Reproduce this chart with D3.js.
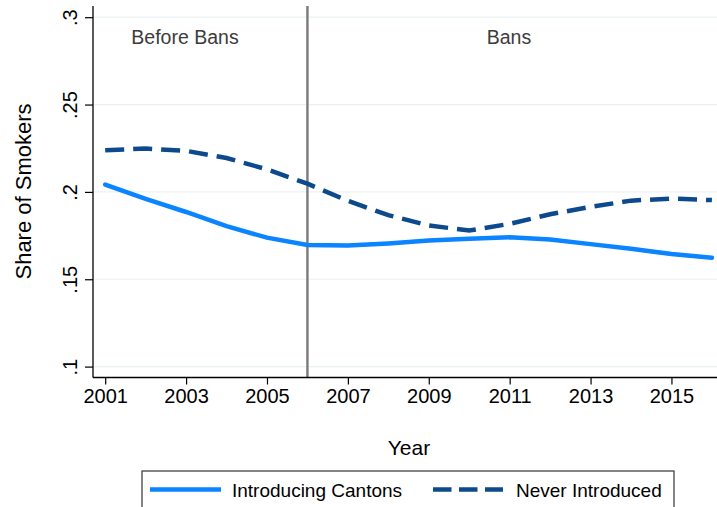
<!DOCTYPE html>
<html>
<head>
<meta charset="utf-8">
<script src="https://cdn.jsdelivr.net/npm/d3@7"></script>
<style>
  html, body { margin: 0; padding: 0; background: #fff; }
  svg { display: block; font-family: "Liberation Sans", Arial, sans-serif; }
</style>
</head>
<body>
<svg id="chart" width="717" height="507"></svg>
<script>
const years = [2001,2002,2003,2004,2005,2006,2007,2008,2009,2010,2011,2012,2013,2014,2015,2016];
const introducingCantons = [0.2042,0.1960,0.1885,0.1804,0.1738,0.1696,0.1693,0.1705,0.1722,0.1732,0.1740,0.1728,0.1701,0.1674,0.1644,0.1623];
const neverIntroduced = [0.2238,0.2248,0.2235,0.2194,0.2129,0.2047,0.1949,0.1867,0.1808,0.1779,0.1817,0.1872,0.1914,0.1950,0.1962,0.1953];
const xTickValues = [2001,2003,2005,2007,2009,2011,2013,2015];
const yTickValues = [0.1,0.15,0.2,0.25,0.3];
const yTickLabels = [".1",".15",".2",".25",".3"];
const banYear = 2006;
const seriesNames = ["Introducing Cantons","Never Introduced"];
const periodLabels = ["Before Bans","Bans"];

const svg = d3.select("#chart");
const W = 717, H = 507;
const axisLeft = 93, axisBottom = 377.5, plotTop = 6, plotRight = 717;

const x = d3.scaleLinear().domain([2001, 2016]).range([105.2, 711.9]);
const y = d3.scaleLinear().domain([0.1, 0.3]).range([366.6, 17.2]);

const solidColor = "#0a84ff";
const navyColor = "#0c4a8d";

// grid lines
svg.append("g").selectAll("line").data(yTickValues).join("line")
  .attr("x1", axisLeft).attr("x2", plotRight)
  .attr("y1", d => y(d)).attr("y2", d => y(d))
  .attr("stroke", "#e9f1f4").attr("stroke-width", 1.2);

// vertical ban line
svg.append("line")
  .attr("x1", x(banYear)).attr("x2", x(banYear))
  .attr("y1", plotTop).attr("y2", axisBottom)
  .attr("stroke", "#7a7a7a").attr("stroke-width", 2.4);

// period labels
svg.append("text").attr("x", 185).attr("y", 44)
  .attr("text-anchor", "middle").attr("font-size", 19.5).attr("fill", "#3c3c3c")
  .text(periodLabels[0]);
svg.append("text").attr("x", 509).attr("y", 44)
  .attr("text-anchor", "middle").attr("font-size", 19.5).attr("fill", "#3c3c3c")
  .text(periodLabels[1]);

// lines
const line = d3.line().x((d, i) => x(years[i])).y(d => y(d)).curve(d3.curveLinear);
svg.append("path").datum(neverIntroduced)
  .attr("d", line).attr("fill", "none")
  .attr("stroke", navyColor).attr("stroke-width", 4.5)
  .attr("stroke-dasharray", "19,9");
svg.append("path").datum(introducingCantons)
  .attr("d", line).attr("fill", "none")
  .attr("stroke", solidColor).attr("stroke-width", 4.5)
  .attr("stroke-linecap", "round");

// x axis
const xAxis = d3.axisBottom(x).tickValues(xTickValues).tickFormat(d3.format("d")).tickSize(7).tickPadding(4);
const gx = svg.append("g").attr("transform", `translate(0,${axisBottom})`).call(xAxis);
gx.select(".domain").remove();
gx.selectAll(".tick line").attr("stroke", "#000").attr("stroke-width", 1.2);
gx.selectAll(".tick text").attr("font-size", 20).attr("fill", "#000")
  .attr("font-family", "Liberation Sans, Arial, sans-serif");
svg.append("line").attr("x1", axisLeft).attr("x2", plotRight)
  .attr("y1", axisBottom).attr("y2", axisBottom)
  .attr("stroke", "#000").attr("stroke-width", 1.3);

// y axis
const yAxis = d3.axisLeft(y).tickValues(yTickValues)
  .tickFormat((d, i) => yTickLabels[i]).tickSize(8).tickPadding(0);
const gy = svg.append("g").attr("transform", `translate(${axisLeft},0)`).call(yAxis);
gy.select(".domain").remove();
gy.selectAll(".tick line").attr("stroke", "#000").attr("stroke-width", 1.2);
gy.selectAll(".tick text")
  .attr("font-size", 20).attr("fill", "#000")
  .attr("font-family", "Liberation Sans, Arial, sans-serif")
  .attr("x", null).attr("dy", null)
  .attr("text-anchor", "middle")
  .attr("transform", "translate(-16,0) rotate(-90)");
svg.append("line").attr("x1", axisLeft).attr("x2", axisLeft)
  .attr("y1", plotTop).attr("y2", axisBottom)
  .attr("stroke", "#000").attr("stroke-width", 1.3);

// axis titles
svg.append("text").attr("transform", "translate(31,191.5) rotate(-90)")
  .attr("text-anchor", "middle").attr("font-size", 22).attr("fill", "#000")
  .text("Share of Smokers");
svg.append("text").attr("x", 409).attr("y", 455)
  .attr("text-anchor", "middle").attr("font-size", 21).attr("fill", "#000")
  .text("Year");

// legend
const lg = svg.append("g");
lg.append("rect").attr("x", 142).attr("y", 471).attr("width", 532).attr("height", 50)
  .attr("fill", "#fff").attr("stroke", "#333").attr("stroke-width", 1.2);
lg.append("line").attr("x1", 150).attr("x2", 221).attr("y1", 489.5).attr("y2", 489.5)
  .attr("stroke", solidColor).attr("stroke-width", 4.5);
lg.append("text").attr("x", 232).attr("y", 497).attr("font-size", 19).attr("fill", "#000")
  .text(seriesNames[0]);
lg.append("line").attr("x1", 433).attr("x2", 503).attr("y1", 489.5).attr("y2", 489.5)
  .attr("stroke", navyColor).attr("stroke-width", 4.5).attr("stroke-dasharray", "18.5,7.5");
lg.append("text").attr("x", 516).attr("y", 497).attr("font-size", 19).attr("fill", "#000")
  .text(seriesNames[1]);
</script>
</body>
</html>
